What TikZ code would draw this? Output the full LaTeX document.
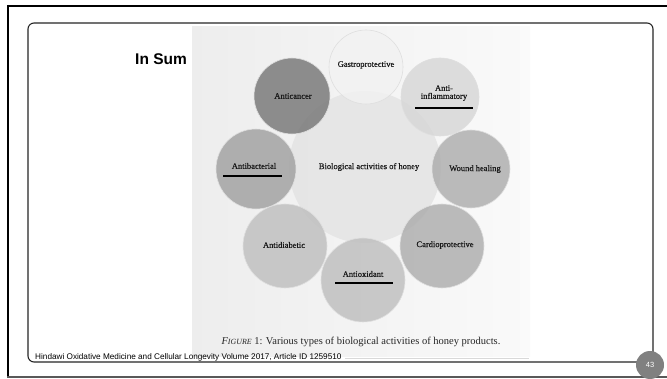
\documentclass[tikz,border=0pt]{standalone}
\usepackage{fontspec}
\setmainfont{Liberation Serif}
\newfontfamily\slidefont{Liberation Sans}
\newfontfamily\figfont[FakeBold=0.4]{Liberation Serif}
\begin{document}
\begin{tikzpicture}[x=1pt,y=-1pt,
  bubble/.style={circle, inner sep=0pt, minimum size=#1, fill opacity=0.8,
    draw=white!75!gray, line width=0.6pt},
  lbl/.style={font=\figfont\fontsize{8.5}{9.5}\selectfont, text=black!90, align=center, inner sep=0pt},
  uline/.style={line width=1.6pt, black}
]
\useasboundingbox (0,0) rectangle (667,379);
\fill[white] (0,0) rectangle (667,379);

% slide frame
\draw[line width=2.6pt, black] (7,6) -- (667,6);
\draw[line width=2.6pt, black] (8,5) -- (8,377);
\draw[line width=1.4pt, black!65] (7,377) -- (667,377);
\draw[line width=1.1pt, black!85, rounded corners=6pt] (28,23) rectangle (653,362);

% scanned figure background
\shade[left color=black!7, right color=black!2] (192,27) rectangle (530,357);
\draw[black!15, line width=0.5pt] (345,358) -- (529,358);

% activity bubbles
\fill[black!11, fill opacity=0.8] (365,167) circle (76);
\node[bubble=74pt, fill=black!5]  (gastro) at (366,67)  {};
\node[bubble=76pt, fill=black!55] (cancer) at (292,96)  {};
\node[bubble=78pt, fill=black!16] (inflam) at (440,97)  {};
\node[bubble=80pt, fill=black!38] (bact)   at (256,169) {};
\node[bubble=78pt, fill=black!33] (wound)  at (471,169) {};
\node[bubble=84pt, fill=black!26] (diab)   at (285,246) {};
\node[bubble=84pt, fill=black!33] (cardio) at (442,246) {};
\node[bubble=84pt, fill=black!26] (oxid)   at (363,280) {};

% labels
\node[lbl] (tcenter) at (369,167) {Biological activities of honey};
\node[lbl] (tgastro) at (366,65) {Gastroprotective};
\node[lbl] (tcancer) at (293,96) {Anticancer};
\node[lbl] (tinflam) at (444,93) {Anti-\\[-1.5pt]inflammatory};
\node[lbl] (tbact)   at (254,166) {Antibacterial};
\node[lbl] (twound)  at (475,169) {Wound healing};
\node[lbl] (tdiab)   at (284,245) {Antidiabetic};
\node[lbl] (tcardio) at (445,245) {Cardioprotective};
\node[lbl] (toxid)   at (363,274) {Antioxidant};

% underlines
\coordinate (ub1) at (223,176); \coordinate (ub2) at (282,176);
\coordinate (ui1) at (415,108); \coordinate (ui2) at (473,108);
\coordinate (uo1) at (335,283); \coordinate (uo2) at (393,283);
\draw[uline] (ub1) -- (ub2);
\draw[uline] (ui1) -- (ui2);
\draw[uline] (uo1) -- (uo2);

% caption
\node[font=\fontsize{10.5}{12}\selectfont, text=black!85, inner sep=0pt] (caption) at (361,342)
  {{\itshape F{\fontsize{7.9}{9}\selectfont IGURE}} 1: Various types of biological activities of honey products.};

% title and footer
\node[font=\slidefont\bfseries\fontsize{15.5}{17}\selectfont, anchor=west, inner sep=0pt] (title) at (135,59) {In Sum};
\node[font=\slidefont\fontsize{8.2}{9}\selectfont, anchor=west, inner sep=0pt] (source) at (35,357)
  {Hindawi Oxidative Medicine and Cellular Longevity Volume 2017, Article ID 1259510};

% page number
\node[circle, fill=black!50, minimum size=28pt, inner sep=0pt, text=white,
  font=\slidefont\fontsize{7.5}{8}\selectfont] (page) at (650,365) {43};
\end{tikzpicture}
\end{document}
